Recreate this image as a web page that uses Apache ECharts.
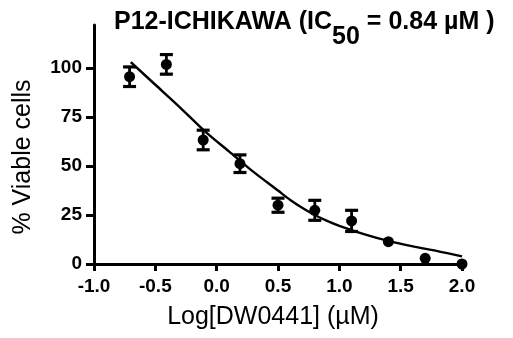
<!DOCTYPE html>
<html>
<head>
<meta charset="utf-8">
<script src="https://cdn.jsdelivr.net/npm/echarts@6/dist/echarts.min.js"></script>
<style>
  html, body { margin: 0; padding: 0; background: #fff; }
  #chart { width: 513px; height: 338px; }
</style>
</head>
<body>
<div id="chart"></div>
<script>
// ---- data ----
const logConc   = [-0.71, -0.41, -0.11, 0.19, 0.50, 0.80, 1.10, 1.40, 1.70, 2.00];
const viability = [95.6, 101.9, 63.3, 51.2, 30.0, 27.4, 22.0, 11.4, 2.9, 0];
const semErr    = [5.0, 5.0, 5.0, 4.5, 3.6, 5.1, 5.4, 0, 0, 0];
// fitted curve, points
const fitX = [-0.70, -0.50, -0.30, -0.10, 0.10, 0.30, 0.50, 0.60, 0.70, 0.80, 0.90, 1.00, 1.20, 1.40, 1.60, 1.80, 2.00];
const fitY = [103, 91.5, 80, 68, 57.5, 47, 37.5, 32.7, 28.6, 25, 22, 19.5, 15.3, 11.8, 9.0, 6.6, 3.9];
// axis ticks
const xTicks = [-1.0, -0.5, 0.0, 0.5, 1.0, 1.5, 2.0];
const yTicks = [0, 25, 50, 75, 100];

const FONT = 'Liberation Sans, Arial, sans-serif';
const chart = echarts.init(document.getElementById('chart'), null, { renderer: 'canvas' });

const titleStyle = { fontFamily: FONT, fontWeight: 'bold', fontSize: 25, color: '#000', verticalAlign: 'top', lineHeight: 25 };

chart.setOption({
  animation: false,
  backgroundColor: '#fff',
  title: {
    text: '{a|P12-ICHIKAWA (IC}{s|50}{a| = 0.84 µM )}',
    left: 114,
    top: 10,
    padding: 0,
    textStyle: {
      rich: {
        a: titleStyle,
        s: Object.assign({}, titleStyle, { padding: [15, 0, 0, 0] })
      }
    }
  },
  grid: { left: 94, right: 51, top: 25, bottom: 74, containLabel: false },
  xAxis: {
    type: 'value',
    min: -1, max: 2, interval: 0.5,
    axisLine: { show: true, onZero: false, lineStyle: { color: '#000', width: 3 } },
    axisTick: { show: true, length: 7, lineStyle: { color: '#000', width: 3 }, customValues: xTicks },
    axisLabel: { customValues: xTicks, margin: 13, fontFamily: FONT, fontWeight: 'bold', fontSize: 19, color: '#000',
      formatter: v => v.toFixed(1) },
    splitLine: { show: false },
    name: 'Log[DW0441] (µM)',
    nameLocation: 'middle',
    nameGap: 41,
    nameTextStyle: { fontFamily: FONT, fontSize: 25, color: '#000', padding: [0, 10, 0, 0] }
  },
  yAxis: {
    type: 'value',
    min: 0, max: 122,
    axisLine: { show: true, onZero: false, lineStyle: { color: '#000', width: 3 } },
    axisTick: { show: true, length: 8, lineStyle: { color: '#000', width: 3 }, customValues: yTicks },
    axisLabel: { customValues: yTicks, margin: 12, fontFamily: FONT, fontWeight: 'bold', fontSize: 19, color: '#000' },
    splitLine: { show: false },
    name: '% Viable cells',
    nameLocation: 'middle',
    nameGap: 58,
    nameTextStyle: { fontFamily: FONT, fontSize: 25, color: '#000', padding: [0, 25, 0, 0] }
  },
  series: [
    {
      type: 'line',
      data: fitX.map((x, i) => [x, fitY[i]]),
      showSymbol: false,
      smooth: 0.3,
      lineStyle: { color: '#000', width: 2.4 },
      z: 2
    },
    {
      type: 'custom',
      data: logConc.map((x, i) => [x, viability[i], semErr[i]]),
      encode: { x: 0, y: 1 },
      renderItem: function (params, api) {
        const x = api.value(0), y = api.value(1), e = api.value(2);
        if (!e) return { type: 'group', children: [] };
        const t = api.coord([x, y + e]);
        const b = api.coord([x, y - e]);
        const hw = 6.5;
        const st = { stroke: '#000', lineWidth: 3.2 };
        return {
          type: 'group',
          children: [
            { type: 'line', shape: { x1: t[0], y1: t[1], x2: b[0], y2: b[1] }, style: { stroke: '#000', lineWidth: 2.8 } },
            { type: 'line', shape: { x1: t[0] - hw, y1: t[1], x2: t[0] + hw, y2: t[1] }, style: st },
            { type: 'line', shape: { x1: b[0] - hw, y1: b[1], x2: b[0] + hw, y2: b[1] }, style: st }
          ]
        };
      },
      z: 3
    },
    {
      type: 'scatter',
      data: logConc.map((x, i) => [x, viability[i]]),
      symbol: 'circle',
      symbolSize: 11,
      itemStyle: { color: '#000', opacity: 1 },
      z: 4
    }
  ]
});
</script>
</body>
</html>
